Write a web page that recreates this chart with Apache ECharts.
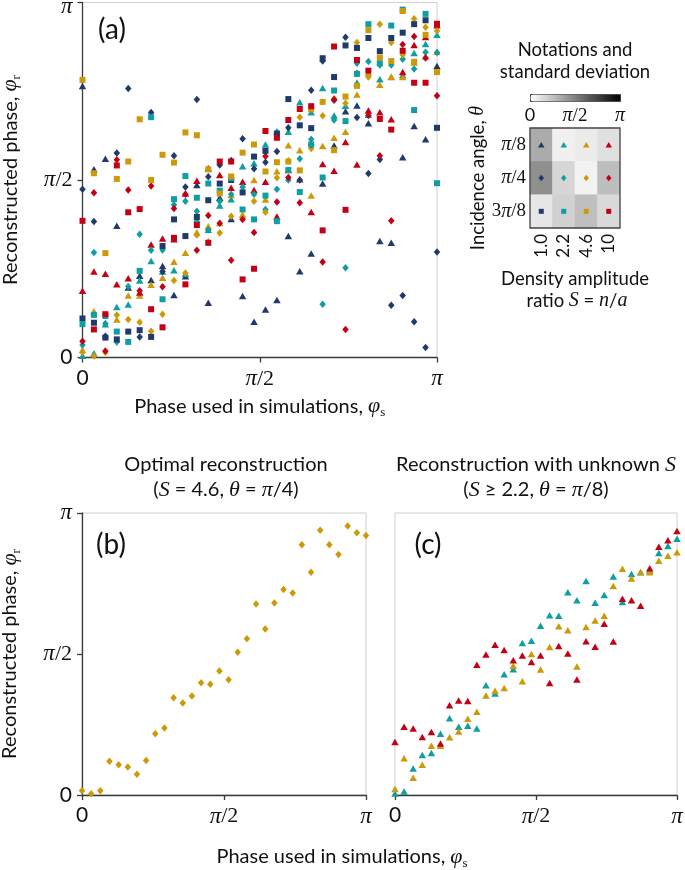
<!DOCTYPE html>
<html><head><meta charset="utf-8">
<script src="https://cdn.jsdelivr.net/npm/echarts@6/dist/echarts.min.js"></script>
<style>html,body{margin:0;padding:0;background:#fff}#c{width:685px;height:870px}</style>
</head><body><div id="c"></div>
<script>
// ---------- data (reconstructed phase, in units of pi) ----------
const phaseIndex = [0,1,2,3,4,5,6,7,8,9,10,11,12,13,14,15,16,17,18,19,20,21,22,23,24,25,26,27,28,29,30,31];
const phaseSteps = 31; // simulated phase = index * pi / 31
const xTicks = [0, 0.5, 1];
const xTickLabels = ['0', 'π/2', 'π'];

// S = 1.0 (navy)
const navyTri = [0.765,0.53,0.56,0.371,0.197,0.23,0.218,0.258,0.176,0.229,0.486,0.154,0.45,0.39,0.173,0.101,0.135,0.162,0.342,0.243,0.293,0.49,0.597,0.694,0.71,0.66,0.328,0.323,0.564,0.652,0.615,0.821];
const navyDia = [0.474,0.383,0.06,0.576,0.758,0.058,0.69,0.242,0.568,0.48,0.727,0.509,0.542,0.555,0.616,0.532,0.55,0.58,0.647,0.5,0.753,0.835,0.725,0.902,0.676,0.518,0.558,0.147,0.175,0.101,0.028,0.297];
const navySq  = [0.11,0.098,0.056,0.051,0.073,0.077,0.058,0.314,0.389,0.342,0.396,0.443,0.49,0.5,0.465,0.566,0.582,0.631,0.728,0.654,0.646,0.843,0.79,0.879,0.872,0.9,0.863,0.9,0.915,0.939,0.95,0.647];
// S = 2.2 (teal)
const tealTri = [0.005,0.012,0.094,0.142,0.149,0.217,0.272,0.242,0.246,0.236,0.389,0.36,0.428,0.446,0.539,0.547,0.6,0.637,0.636,0.719,0.691,0.759,0.682,0.709,0.775,0.684,0.784,0.79,0.796,0.858,0.883,0.909];
const tealDia = [0.035,0.296,0.096,0.044,0.2,0.347,0.302,0.303,0.43,0.44,0.412,0.359,0.44,0.46,0.48,0.46,0.417,0.474,0.5,0.56,0.615,0.15,0.669,0.253,0.829,0.834,0.824,0.824,0.84,0.813,0.86,0.859];
const tealSq  = [0.094,0.12,0.117,0.073,0.044,0.244,0.677,0.164,0.446,0.511,0.45,0.49,0.47,0.505,0.417,0.389,0.456,0.384,0.528,0.466,0.6,0.507,0.752,0.666,0.799,0.939,0.829,0.935,0.98,0.697,0.968,0.491];
// S = 4.6 (gold)
const goldTri = [0.021,0.13,0.061,0.107,0.175,0.175,0.205,0.225,0.27,0.295,0.353,0.37,0.379,0.458,0.403,0.5,0.445,0.525,0.598,0.584,0.456,0.596,0.619,0.636,0.741,0.802,0.768,0.791,0.79,0.831,0.848,0.861];
const goldDia = [0.015,0.004,0.015,0.12,0.107,0.099,0.074,0.122,0.217,0.238,0.345,0.326,0.351,0.398,0.393,0.44,0.409,0.506,0.554,0.677,0.589,0.681,0.729,0.716,0.887,0.79,0.939,0.887,0.853,0.954,0.93,0.92];
const goldSq  = [0.782,0.519,0.294,0.503,0.552,0.671,0.5,0.571,0.549,0.634,0.626,0.53,0.462,0.51,0.577,0.6,0.524,0.55,0.552,0.527,0.699,0.72,0.584,0.735,0.765,0.922,0.845,0.835,0.976,0.833,0.909,0.804];
// S = 10 (red)
const redTri = [0.188,0.242,0.236,0.206,0.223,0.183,0.318,0.335,0.333,0.462,0.498,0.533,0.514,0.478,0.495,0.472,0.495,0.397,0.528,0.502,0.41,0.545,0.526,0.607,0.544,0.696,0.691,0.671,0.804,0.88,0.903,0.936];
const redDia = [0.046,0.464,0.018,0.557,0.472,0.188,0.483,0.199,0.42,0.46,0.302,0.4,0.378,0.274,0.389,0.352,0.567,0.438,0.507,0.436,0.6,0.269,0.727,0.079,0.8,0.682,0.568,0.385,0.882,0.904,0.844,0.737];
const redSq  = [0.385,0.079,0.122,0.541,0.409,0.418,0.136,0.085,0.337,0.206,0.373,0.323,0.552,0.552,0.22,0.25,0.638,0.619,0.669,0.7,0.708,0.358,0.876,0.416,0.838,0.808,0.672,0.642,0.864,0.774,0.774,0.94];

// inset: standard deviation (units of pi), rows theta, columns S
const sLabels = ['1.0','2.2','4.6','10'];
const thetaLabels = ['π/8','π/4','3π/8'];
const stdThetaPi8  = [0.33,0.06,0.08,0.12];
const stdThetaPi4  = [0.44,0.16,0.05,0.26];
const stdTheta3Pi8 = [0.10,0.18,0.25,0.15];

// ---------- styles ----------
const COL = {navy:'#1f3a6b', teal:'#0f9ea1', gold:'#cc9a06', red:'#c40016'};
const SYM = {tri:'triangle', dia:'diamond', sq:'rect'};
const SIZE = {tri:[7.5,6.5], dia:[6.5,7.5], sq:[6,6]};
const FONT = 'Lato', SERIF = 'Liberation Serif', AX = '#3a3a3a';

const xs = phaseIndex.map(k => k / phaseSteps);
const pts = arr => arr.map((v, i) => [xs[i], v]);

const richLab = fs => ({
  z:{fontFamily:FONT, fontSize:fs, color:'#111'},
  p:{fontFamily:SERIF, fontStyle:'italic', fontSize:fs+2, color:'#111'},
  pt:{fontFamily:SERIF, fontStyle:'italic', fontSize:fs+2, color:'#111', padding:[9,0,0,0]},
  s:{fontFamily:SERIF, fontSize:fs+1, color:'#111'}
});
function toRich(lbl){
  return lbl.replace(/π/g,'\u0001').split(/(\u0001)/).filter(s=>s!=='').map(s=>{
    if (s==='\u0001') return '{p|π}';
    if (/^[0-9.]+$/.test(s) && lbl.indexOf('π')<0) return '{z|'+s+'}';
    return '{s|'+s+'}';
  }).join('');
}
function fmtPi(v){
  for (let i=0;i<xTicks.length;i++) if (Math.abs(v-xTicks[i])<1e-6) return toRich(xTickLabels[i]);
  return '';
}
function fmtPiTop(v){ // y axis of (a): keep the top label inside the page
  const r = fmtPi(v);
  return Math.abs(v-1)<1e-6 ? r.replace('{p|','{pt|') : r;
}
const nameRich = {
  t:{fontFamily:FONT, fontSize:20, color:'#111', lineHeight:26},
  i:{fontFamily:SERIF, fontStyle:'italic', fontSize:22, color:'#111', lineHeight:26},
  u:{fontFamily:SERIF, fontSize:13, color:'#111', lineHeight:26, verticalAlign:'bottom'}
};
const insetRich = {
  t:{fontFamily:FONT, fontSize:18.5, color:'#111', lineHeight:24},
  i:{fontFamily:SERIF, fontStyle:'italic', fontSize:20, color:'#111', lineHeight:24}
};

function phaseAxis(gridIndex, extra){
  return Object.assign({
    type:'value', gridIndex, min:0, max:1, interval:0.5,
    axisLine:{show:true, onZero:false, lineStyle:{color:AX, width:1.3}},
    axisTick:{show:true, inside:false, length:5, lineStyle:{color:AX, width:1.3}},
    axisLabel:{show:true, margin:10, formatter:fmtPi, rich:richLab(21), showMinLabel:true, showMaxLabel:true},
    splitLine:{show:false},
    nameTextStyle:{rich:nameRich}
  }, extra||{});
}
const yName = '{t|Reconstructed phase, }{i|φ}{u|r}';
const xName = '{t|Phase used in simulations, }{i|φ}{u|s}';

const series = [];
const groupsA = [
  ['navy','tri',navyTri],['teal','tri',tealTri],['gold','tri',goldTri],['red','tri',redTri],
  ['navy','dia',navyDia],['teal','dia',tealDia],['gold','dia',goldDia],['red','dia',redDia],
  ['navy','sq',navySq],['teal','sq',tealSq],['gold','sq',goldSq],['red','sq',redSq]
];
groupsA.forEach(([c,s,arr]) => series.push({
  type:'scatter', xAxisIndex:0, yAxisIndex:0, data:pts(arr), symbol:SYM[s], symbolSize:SIZE[s],
  itemStyle:{color:COL[c], opacity:1}, silent:true
}));
series.push({type:'scatter', xAxisIndex:1, yAxisIndex:1, data:pts(goldDia), symbol:'diamond', symbolSize:[6.5,7.5], itemStyle:{color:COL.gold, opacity:1}, silent:true});
[['teal',tealTri],['gold',goldTri],['red',redTri]].forEach(([c,arr]) => series.push({
  type:'scatter', xAxisIndex:2, yAxisIndex:2, data:pts(arr), symbol:'triangle', symbolSize:[7.5,6.5], itemStyle:{color:COL[c], opacity:1}, silent:true
}));

// inset heatmap
const stdRows = [stdThetaPi8, stdThetaPi4, stdTheta3Pi8];
const heatData = [];
stdRows.forEach((row, yi) => row.forEach((v, xi) => heatData.push([xi, yi, v])));
const heatIdx = series.length;
series.push({type:'heatmap', xAxisIndex:3, yAxisIndex:3, data:heatData, silent:true, itemStyle:{borderWidth:0}, emphasis:{disabled:true}});
const colorsByS = [COL.navy, COL.teal, COL.gold, COL.red];
const symByTheta = ['triangle','diamond','rect'];
const sizeByTheta = [[6.5,5.5],[5.5,6.5],[5,5]];
const markData = [];
thetaLabels.forEach((t, yi) => sLabels.forEach((s, xi) => markData.push({
  value:[xi, yi], symbol:symByTheta[yi], symbolSize:sizeByTheta[yi], itemStyle:{color:colorsByS[xi], opacity:1}
})));
series.push({type:'scatter', xAxisIndex:3, yAxisIndex:3, data:markData, silent:true, z:5});

const gridBase = {show:true, borderColor:'#cfcfcf', borderWidth:1, backgroundColor:'transparent', containLabel:false, outerBoundsMode:'none'};

const txt = (x, y, text, rich) => ({
  type:'text', x, y, silent:true,
  style:{text, fill:'#111', fontFamily:FONT, fontSize:19, align:'center', verticalAlign:'middle', textAlign:'center', textVerticalAlign:'middle', rich:rich}
});
const hdrRich = {
  t:{fontFamily:FONT, fontSize:20, color:'#111'},
  i:{fontFamily:SERIF, fontStyle:'italic', fontSize:22, color:'#111'},
  u:{fontFamily:SERIF, fontSize:13, color:'#111', lineHeight:26, verticalAlign:'bottom'}
};
const lblRich = {a:{fontFamily:FONT, fontSize:28, color:'#111'}};

const option = {
  animation:false,
  backgroundColor:'#ffffff',
  grid:[
    Object.assign({left:82.5, top:2.5, width:354.5, height:355}, gridBase),
    Object.assign({left:82, top:513, width:284, height:282}, gridBase),
    Object.assign({left:395, top:513, width:282, height:282}, gridBase),
    {left:530, top:128, width:90, height:100, show:true, borderColor:'#444', borderWidth:1.3, backgroundColor:'transparent', z:10, containLabel:false, outerBoundsMode:'none'},
    {left:530, top:94, width:90, height:7, show:false, containLabel:false, outerBoundsMode:'none'}
  ],
  xAxis:[
    phaseAxis(0, {name:xName, nameLocation:'middle', nameGap:36}),
    phaseAxis(1),
    phaseAxis(2),
    {type:'category', gridIndex:3, data:sLabels, axisLine:{show:false}, axisTick:{show:false},
     axisLabel:{rotate:90, margin:6, fontFamily:FONT, fontSize:17, color:'#111'}},
    {type:'value', gridIndex:4, min:0, max:1, interval:0.5, axisLine:{show:false},
     axisTick:{show:true, inside:true, length:3, lineStyle:{color:'#333'}},
     axisLabel:{margin:5, formatter:fmtPi, rich:richLab(18), showMinLabel:true, showMaxLabel:true}, splitLine:{show:false}}
  ],
  yAxis:[
    phaseAxis(0, {name:yName, nameLocation:'middle', nameGap:59,
      axisLabel:{show:true, margin:10, formatter:fmtPiTop, rich:richLab(21), showMinLabel:true, showMaxLabel:true}}),
    phaseAxis(1, {name:yName, nameLocation:'middle', nameGap:59}),
    phaseAxis(2, {axisLine:{show:false}, axisTick:{show:false}, axisLabel:{show:false}}),
    {type:'category', gridIndex:3, data:thetaLabels, inverse:true, axisLine:{show:false}, axisTick:{show:false},
     axisLabel:{margin:4, formatter:v => toRich(v), rich:richLab(18)},
     name:'{t|Incidence angle, }{i|θ}', nameLocation:'middle', nameGap:35, nameTextStyle:{rich:insetRich}},
    {type:'value', gridIndex:4, show:false, min:0, max:1}
  ],
  visualMap:{
    type:'continuous', min:0, max:1, seriesIndex:heatIdx, orient:'horizontal',
    left:530, top:94, itemWidth:7, itemHeight:90, calculable:false, text:null, hoverLink:false,
    inRange:{color:['#ffffff','#000000']}, padding:0, borderColor:'#333', borderWidth:1, showLabel:false
  },
  series,
  graphic:[
    txt(112, 30, '{a|(a)}', lblRich),
    txt(111, 545, '{a|(b)}', lblRich),
    txt(428, 545, '{a|(c)}', lblRich),
    txt(226, 465, '{t|Optimal reconstruction}', hdrRich),
    txt(226, 490, '{t|(}{i|S}{t| = 4.6, }{i|θ}{t| = }{i|π}{t|/4)}', hdrRich),
    txt(536, 465, '{t|Reconstruction with unknown }{i|S}', hdrRich),
    txt(536, 490, '{t|(}{i|S}{t| ≥ 2.2, }{i|θ}{t| = }{i|π}{t|/8)}', hdrRich),
    txt(575, 50, '{t|Notations and}', insetRich),
    txt(575, 72, '{t|standard deviation}', insetRich),
    txt(575, 279, '{t|Density amplitude}', insetRich),
    txt(577, 301, '{t|ratio }{i|S}{t| = }{i|n}{t|/}{i|a}', insetRich),
    txt(342, 857, xName, hdrRich)
  ]
};

const chart = echarts.init(document.getElementById('c'), null, {renderer:'canvas', width:685, height:870});
chart.setOption(option);
</script></body></html>
